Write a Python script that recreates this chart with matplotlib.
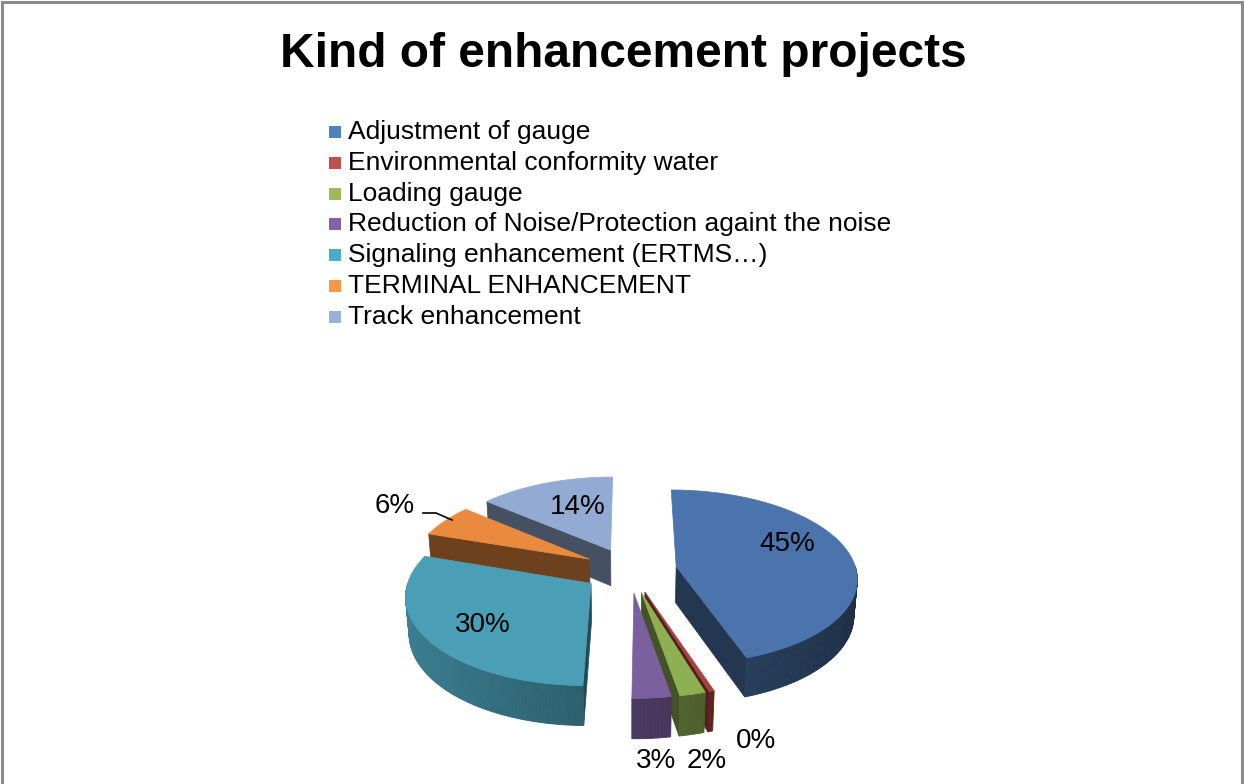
import numpy as np
import matplotlib.pyplot as plt
import matplotlib.colors as mcolors
from matplotlib.patches import Polygon, Rectangle

plt.rcParams['font.family'] = ['Liberation Sans', 'DejaVu Sans']

categories = ["Adjustment of gauge",
              "Environmental conformity water",
              "Loading gauge",
              "Reduction of Noise/Protection againt the noise",
              "Signaling enhancement (ERTMS\u2026)",
              "TERMINAL ENHANCEMENT",
              "Track enhancement"]
values = [45, 0.4, 2, 3, 30, 6, 14]

top_colors = ['#4a74ab', '#a8413f', '#8fb052', '#7b60a0', '#4a9fb7', '#e98a3f', '#93aad2']
legend_colors = ['#4f81bd', '#c0504d', '#9bbb59', '#8064a2', '#4bacc6', '#f79646', '#95b3d7']

# pie geometry (pixels) and a simple perspective camera
CX, CY = 630, 570
R = 180
T = 42
EXPLODE = 47
SIN_E = 0.48
COS_E = np.sqrt(1 - SIN_E ** 2)
DIST = 1311.0


def project(px, py, pz):
    v = py * SIN_E + pz * COS_E
    w = py * COS_E - pz * SIN_E
    s = DIST / (DIST + w)
    return CX + px * s, CY - v * s


def shade(color, f):
    rgb = np.array(mcolors.to_rgb(color))
    return tuple(np.clip(rgb * f, 0, 1))


def rim(ox, oy, angles, pz):
    rad = np.radians(angles)
    return [project(ox + R * np.sin(a), oy + R * np.cos(a), pz) for a in rad]


fig = plt.figure(figsize=(12.44, 7.84), dpi=100)
ax = fig.add_axes([0, 0, 1, 1])
ax.set_xlim(0, 1244)
ax.set_ylim(784, 0)
ax.axis('off')

# chart frame
ax.plot([1.5, 1.5, 1242, 1242], [800, 2, 2, 800], color='#8a8a8a', lw=2.2,
        solid_joinstyle='miter')

ax.text(623, 67, "Kind of enhancement projects", ha='center', va='baseline',
        fontsize=34.5, fontweight='bold')

# legend
for i, (name, col) in enumerate(zip(categories, legend_colors)):
    y = 132 + i * 30.8
    ax.add_patch(Rectangle((329, y - 6), 12, 12, facecolor=col, edgecolor='none'))
    ax.text(348, y, name, va='center', ha='left', fontsize=19)

total = sum(values)
slices = []
start = 0.0
for i, val in enumerate(values):
    a0 = start
    a1 = start + val / total * 360
    start = a1
    mid = np.radians((a0 + a1) / 2)
    ox, oy = EXPLODE * np.sin(mid), EXPLODE * np.cos(mid)
    slices.append((i, a0, a1, ox, oy))

# back-to-front drawing order
order = sorted(slices, key=lambda s: -s[4])

for i, a0, a1, ox, oy in order:
    col = top_colors[i]
    tip_top = project(ox, oy, 0)
    tip_bot = project(ox, oy, -T)

    # cut faces that look toward the viewer
    for a, visible in ((a0, np.sin(np.radians(a0)) < 0),
                       (a1, np.sin(np.radians(a1)) > 0)):
        if visible:
            et = rim(ox, oy, [a], 0)[0]
            eb = rim(ox, oy, [a], -T)[0]
            ax.add_patch(Polygon([tip_top, et, eb, tip_bot], closed=True,
                                 facecolor=shade(col, 0.47), edgecolor=shade(col, 0.47),
                                 lw=0.5))

    # outer wall, front half only
    lo, hi = max(a0, 90), min(a1, 270)
    if hi > lo:
        edges = np.linspace(lo, hi, max(2, int((hi - lo) / 1.0) + 2))
        for b0, b1 in zip(edges[:-1], edges[1:]):
            f = 0.6 - 0.2 * np.sin(np.radians((b0 + b1) / 2))
            c = shade(col, f)
            top = rim(ox, oy, [b0, b1], 0)
            bot = rim(ox, oy, [b1, b0], -T)
            ax.add_patch(Polygon(top + bot, closed=True, facecolor=c,
                                 edgecolor=c, lw=0.6))

    # top face
    arc = rim(ox, oy, np.linspace(a0, a1, max(3, int(a1 - a0) + 2)), 0)
    ax.add_patch(Polygon([tip_top] + arc, closed=True, facecolor=col,
                         edgecolor=col, lw=0.5))

# data labels: inside ones sit on the top face, the rest beside the pie
inside_nudge = {0: (3, -14), 4: (-10, 8), 6: (9, 0)}
outside_xy = {1: (756, 741), 2: (707, 761), 3: (656, 761), 5: (395, 506)}
for i, a0, a1, ox, oy in slices:
    txt = "%d%%" % round(values[i] / total * 100)
    if i in inside_nudge:
        mid = np.radians((a0 + a1) / 2)
        x, y = project(ox + 0.62 * R * np.sin(mid), oy + 0.62 * R * np.cos(mid), 0)
        x += inside_nudge[i][0]
        y += inside_nudge[i][1]
    else:
        x, y = outside_xy[i]
    ax.text(x, y, txt, ha='center', va='center', fontsize=20)

# leader line for the terminal slice
ax.plot([423, 436, 452], [513, 513, 520], color='black', lw=1.2)

fig.savefig('out.png', dpi=100)
